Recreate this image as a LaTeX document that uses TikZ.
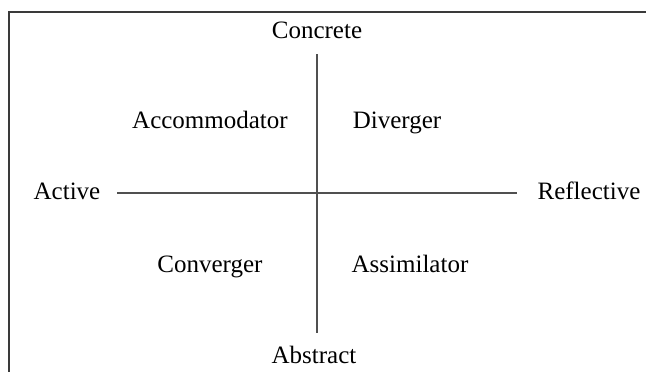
\documentclass[tikz,border=0pt]{standalone}
\usepackage{fontspec}
\setmainfont{Liberation Serif}
\definecolor{framecol}{HTML}{3A3A3A}
\definecolor{axiscol}{HTML}{505050}
\begin{document}
\begin{tikzpicture}[x=1pt,y=-1pt,
  lbl/.style={anchor=base,inner sep=0pt,font=\fontsize{25}{30}\selectfont,text=black},
  axis/.style={draw=axiscol,line width=1.3pt},
  frame/.style={draw=framecol,line width=2pt}]
\useasboundingbox (0,0) rectangle (646,372);
\clip (0,0) rectangle (646,372);
% frame (only top and left edges visible)
\coordinate (fbl) at (8.5,380);
\coordinate (ftl) at (8.5,11.5);
\coordinate (ftr) at (660,11.5);
\draw[frame] (fbl) -- (ftl) -- (ftr);
% labels
\node[lbl] (concrete) at (317,38) {Concrete};
\node[lbl] (abstract) at (314,363) {Abstract};
\node[lbl] (active) at (67,199) {Active};
\node[lbl] (reflective) at (589,199) {Reflective};
\node[lbl] (accom) at (210,128) {Accommodator};
\node[lbl] (diverger) at (397,128) {Diverger};
\node[lbl] (converger) at (210,272) {Converger};
\node[lbl] (assim) at (410,272) {Assimilator};
% axes
\coordinate (vtop) at (317,54);
\coordinate (vbot) at (317,333);
\coordinate (hleft) at (117,193);
\coordinate (hright) at (517,193);
\draw[axis] (vtop) -- (vbot);
\draw[axis] (hleft) -- (hright);
\end{tikzpicture}
\end{document}
